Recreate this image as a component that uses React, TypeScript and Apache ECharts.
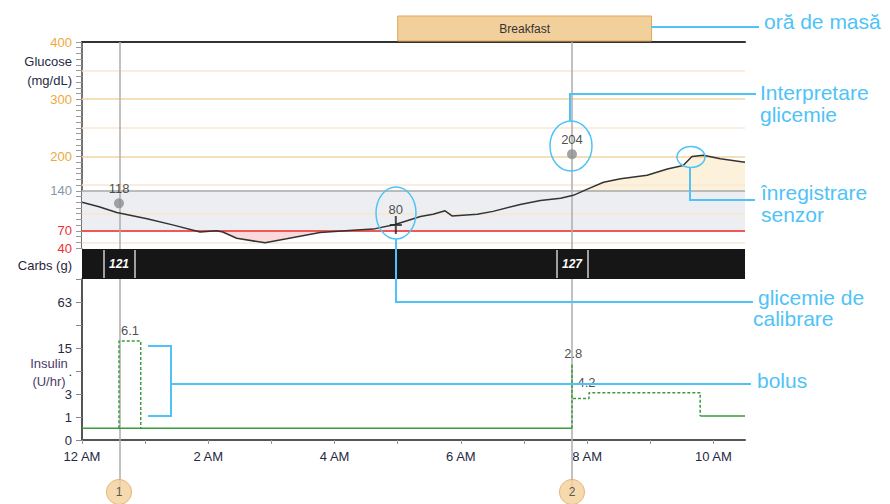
import React, { useEffect, useRef } from "react";
import * as echarts from "echarts";

// ---------- data ----------
const xTickLabels = ["12 AM", "", "2 AM", "", "4 AM", "", "6 AM", "", "8 AM", "", "10 AM"];

const glucoseTimes = [0, 0.27, 0.55, 1.03, 1.45, 1.87, 2.13, 2.23, 2.45, 2.9, 3.24, 3.77, 4.29, 4.61, 4.96, 5.36, 5.56, 5.75, 5.86, 6.26, 6.51, 6.94, 7.26, 7.58, 7.78, 8.05, 8.26, 8.53, 8.95, 9.27, 9.52, 9.66, 9.84, 10.11, 10.5];
const glucoseValues = [120, 112, 102, 91, 80, 68, 70, 68, 57, 49, 56, 67, 71, 73, 81, 95, 99, 105, 96, 99, 104, 116, 123, 127, 132, 145, 155, 161, 167, 178, 184, 200, 202, 196, 190];
const glucoseTickLabels = [40, 70, 140, 200, 300, 400];
const targetLow = 70;
const targetHigh = 140;
const majorGlucoseLines = [200, 300];
const minorGlucoseLines = [50, 100, 150, 250, 350];

const fingerstickTimes = [0.586, 7.76];
const fingerstickValues = [118, 204];
const calibrationTimes = [4.97];
const calibrationValues = [80];

const carbTimes = [0.586, 7.76];
const carbValues = [121, 127];

const mealNames = ["Breakfast"];
const mealStarts = [5.0];
const mealEnds = [9.02];

const eventTimes = [0.586, 7.76];
const eventLabels = ["1", "2"];

const basalTimes = [0, 7.76, 7.76, 9.79, 10.5];
const basalRates: (number | null)[] = [0.42, 0.42, null, 1.06, 1.06];
const bolusTimes = [0.586, 0.586, 0.93, 0.93, 0.93, 7.76, 7.76, 7.76, 8.03, 8.03, 9.79, 9.79];
const bolusRates: (number | null)[] = [0.42, 18.7, 18.7, 0.42, null, 0.42, 8.9, 2.5, 2.5, 3.16, 3.16, 1.06];
const bolusLabelTimes = [0.76, 7.78, 7.99];
const bolusLabelRates = [18.7, 8.9, 3.16];
const bolusAmounts = ["6.1", "2.8", "4.2"];
const insulinTickLabels = ["0", "1", "3", ".", "15", "", "63", ""];

// ---------- helpers ----------
const FONT = "Liberation Sans, Arial, sans-serif";
const BLUE = "#4fc3f7";
const toIns = (r: number) => Math.log2(r + 1);
const X_MAX = 10.5;
const LEFT = 82;
const WIDTH = 663;

export default function App() {
  const ref = useRef<HTMLDivElement>(null);

  useEffect(() => {
    if (!ref.current) return;
    const chart = echarts.init(ref.current, undefined, { renderer: "svg" });

    const gPts = glucoseTimes.map((t, i) => [t, glucoseValues[i]]);
    const highPts = glucoseTimes.map((t, i) => [t, Math.max(glucoseValues[i], targetHigh)]);
    const lowPts = glucoseTimes.map((t, i) => [t, Math.min(glucoseValues[i], targetLow)]);
    const lowLine = [[0, targetLow], [X_MAX, targetLow]];

    const basalData = basalTimes.map((t, i) => (basalRates[i] === null ? [t, "-"] : [t, toIns(basalRates[i] as number)]));
    const bolusData = bolusTimes.map((t, i) => (bolusRates[i] === null ? [t, "-"] : [t, toIns(bolusRates[i] as number)]));

    const hiddenX = (gridIndex: number) => ({
      type: "value", gridIndex, min: 0, max: X_MAX, show: false,
    });

    const noLine = { opacity: 0, width: 0 };

    const txt = (text: string, x: number, y: number, opts: any = {}) => ({
      type: "text", x, y, silent: true, z: 100,
      style: {
        text, fill: opts.fill || BLUE, font: `${opts.size || 21}px ${FONT}`,
        align: opts.align || "left", verticalAlign: "middle",
      },
    });
    const bl = { stroke: BLUE, lineWidth: 2, fill: null };

    const option: any = {
      animation: false,
      backgroundColor: "#ffffff",
      textStyle: { fontFamily: FONT },
      grid: [
        { left: LEFT, top: 42, width: WIDTH, height: 206, show: false },
        { left: LEFT, top: 249, width: WIDTH, height: 30, show: false },
        { left: LEFT, top: 279, width: WIDTH, height: 161, show: false },
        { left: LEFT, top: 16, width: WIDTH, height: 25, show: false },
        { left: LEFT, top: 42, width: WIDTH, height: 450, show: false },
      ],
      xAxis: [
        {
          type: "value", gridIndex: 0, min: 0, max: X_MAX, position: "top",
          axisLine: { show: true, lineStyle: { color: "#333", width: 2 } },
          axisTick: { show: false }, axisLabel: { show: false }, splitLine: { show: false },
        },
        hiddenX(1),
        {
          type: "value", gridIndex: 2, min: 0, max: X_MAX, interval: 1, position: "bottom",
          axisLine: { show: true, onZero: false, lineStyle: { color: "#555", width: 2 } },
          axisTick: { show: true, length: 4, lineStyle: { color: "#999" } },
          axisLabel: {
            margin: 10, fontSize: 13, color: "#1f2a44", showMaxLabel: false,
            formatter: (v: number) => (Number.isInteger(v) ? xTickLabels[v] ?? "" : ""),
          },
          splitLine: { show: false },
        },
        hiddenX(3),
        hiddenX(4),
      ],
      yAxis: [
        {
          type: "value", gridIndex: 0, min: 40, max: 400, interval: 10,
          axisLine: { show: true, lineStyle: { color: "#444", width: 1.5 } },
          axisTick: { show: true, length: 6, lineStyle: { color: "#999" } },
          axisLabel: {
            margin: 10, fontSize: 13,
            formatter: (v: number) => (glucoseTickLabels.includes(Number(v)) ? String(v) : ""),
            color: (v: any) => {
              const n = Number(v);
              if (n >= 200) return "#f0a83a";
              if (n === targetHigh) return "#8796ad";
              return "#ee3030";
            },
          },
          splitLine: { show: false },
        },
        { type: "value", gridIndex: 1, min: 0, max: 1, show: false },
        {
          type: "value", gridIndex: 2, min: 0, max: 7, interval: 1,
          axisLine: { show: true, lineStyle: { color: "#555", width: 2 } },
          axisTick: { show: true, length: 6, lineStyle: { color: "#888" } },
          axisLabel: {
            margin: 10, fontSize: 13, color: "#1f2a44",
            formatter: (v: number) => insulinTickLabels[Math.round(v)] ?? "",
          },
          splitLine: { show: false },
        },
        { type: "value", gridIndex: 3, min: 0, max: 1, show: false },
        { type: "value", gridIndex: 4, min: 0, max: 1, show: false },
      ],
      series: [
        // high fill: glucose above target down to axis bottom
        {
          type: "line", xAxisIndex: 0, yAxisIndex: 0, data: highPts, symbol: "none",
          lineStyle: noLine, areaStyle: { color: "#fcf1da", opacity: 1, origin: "start" }, silent: true, z: 1,
        },
        // low zone fill (pink below 70)
        {
          type: "line", xAxisIndex: 0, yAxisIndex: 0, data: lowLine, symbol: "none",
          lineStyle: noLine, areaStyle: { color: "#f9d9d9", opacity: 1, origin: "start" }, silent: true, z: 2,
        },
        // white below curve where under 70
        {
          type: "line", xAxisIndex: 0, yAxisIndex: 0, data: lowPts, symbol: "none",
          lineStyle: noLine, areaStyle: { color: "#ffffff", opacity: 1, origin: "start" }, silent: true, z: 3,
        },
        // target band
        {
          type: "line", xAxisIndex: 0, yAxisIndex: 0, data: lowLine, symbol: "none",
          lineStyle: noLine, silent: true, z: 4,
          markArea: {
            silent: true, z: 4,
            itemStyle: { color: "#eceef1" },
            data: [[{ yAxis: targetLow }, { yAxis: targetHigh }]],
          },
        },
        // reference lines
        {
          type: "line", xAxisIndex: 0, yAxisIndex: 0, data: [], silent: true, z: 5,
          markLine: {
            silent: true, z: 5, symbol: ["none", "none"], label: { show: false },
            data: [
              ...minorGlucoseLines.map((v) => ({ yAxis: v, lineStyle: { color: "#f9e6d3", width: 1.5, type: "solid" } })),
              ...majorGlucoseLines.map((v) => ({ yAxis: v, lineStyle: { color: "#f5d2a0", width: 1.5, type: "solid" } })),
              { yAxis: targetHigh, lineStyle: { color: "#a8a8a8", width: 1.5, type: "solid" } },
              { yAxis: targetLow, lineStyle: { color: "#f05858", width: 2, type: "solid" } },
            ],
          },
        },
        // event vertical lines
        {
          type: "line", xAxisIndex: 4, yAxisIndex: 4, data: [], silent: true, z: 5,
          markLine: {
            silent: true, z: 5, symbol: ["none", "none"], label: { show: false },
            lineStyle: { color: "#acacac", width: 1.5, type: "solid" },
            data: eventTimes.map((t) => ({ xAxis: t })),
          },
        },
        // carbs band
        {
          type: "line", xAxisIndex: 1, yAxisIndex: 1, data: [[0, 0.5]], symbol: "none",
          lineStyle: noLine, silent: true, z: 8,
          markArea: {
            silent: true, z: 8,
            itemStyle: { color: "#161616" },
            data: [[{ xAxis: 0 }, { xAxis: X_MAX }]],
          },
        },
        // glucose curve
        {
          type: "line", xAxisIndex: 0, yAxisIndex: 0, data: gPts, symbol: "none",
          lineStyle: { color: "#333", width: 1.5 }, silent: true, z: 6,
        },
        // fingersticks
        {
          type: "scatter", xAxisIndex: 0, yAxisIndex: 0, z: 7, symbolSize: 10,
          itemStyle: { color: "#8c8c8c" },
          data: fingerstickTimes.map((t, i) => [t, fingerstickValues[i]]),
          label: { show: true, position: "top", distance: 3, color: "#222", fontSize: 13, formatter: (p: any) => String(p.value[1]) },
        },
        // calibration
        {
          type: "scatter", xAxisIndex: 0, yAxisIndex: 0, z: 7,
          symbol: "path://M5,0h2v18h-2zM0,8h12v2h-12z", symbolSize: [12, 18],
          itemStyle: { color: "#222" },
          data: calibrationTimes.map((t, i) => [t, calibrationValues[i]]),
          label: { show: true, position: "top", distance: 0, color: "#222", fontSize: 13, formatter: (p: any) => String(p.value[1]) },
        },
        // carbs
        {
          type: "custom", xAxisIndex: 1, yAxisIndex: 1, z: 9, silent: true,
          data: carbTimes.map((t, i) => [t, carbValues[i]]),
          renderItem: (_p: any, api: any) => {
            const c = api.coord([api.value(0), 0.5]);
            return {
              type: "group",
              children: [
                { type: "line", shape: { x1: c[0] - 15, y1: c[1] - 14, x2: c[0] - 15, y2: c[1] + 14 }, style: { stroke: "#a0a0a0", lineWidth: 2 } },
                { type: "line", shape: { x1: c[0] + 16, y1: c[1] - 14, x2: c[0] + 16, y2: c[1] + 14 }, style: { stroke: "#a0a0a0", lineWidth: 2 } },
                { type: "text", x: c[0], y: c[1], style: { text: String(api.value(1)), fill: "#ffffff", font: `italic bold 12px ${FONT}`, align: "center", verticalAlign: "middle" } },
              ],
            };
          },
        },
        // basal
        {
          type: "line", xAxisIndex: 2, yAxisIndex: 2, data: basalData, symbol: "none", connectNulls: false,
          lineStyle: { color: "#3c9a3c", width: 1.5 }, silent: true, z: 6,
        },
        // bolus
        {
          type: "line", xAxisIndex: 2, yAxisIndex: 2, data: bolusData, symbol: "none", connectNulls: false,
          lineStyle: { color: "#3c9a3c", width: 1.5, type: [3, 2] }, silent: true, z: 6,
        },
        {
          type: "scatter", xAxisIndex: 2, yAxisIndex: 2, symbolSize: 0, z: 7, silent: true,
          data: bolusLabelTimes.map((t, i) => ({ value: [t, toIns(bolusLabelRates[i])], name: bolusAmounts[i] })),
          label: { show: true, position: "top", distance: 4, color: "#222", fontSize: 13, formatter: (p: any) => p.name },
        },
        // meal
        {
          type: "line", xAxisIndex: 3, yAxisIndex: 3, data: [[mealStarts[0], 0.5]], symbol: "none",
          lineStyle: noLine, silent: true, z: 3,
          markArea: {
            silent: true,
            itemStyle: { color: "#f1d09c", borderColor: "#e2a75a", borderWidth: 1 },
            label: { show: true, position: "inside", color: "#333", fontSize: 12 },
            data: mealNames.map((n, i) => [{ name: n, xAxis: mealStarts[i] }, { xAxis: mealEnds[i] }]),
          },
        },
        // event circles
        {
          type: "scatter", xAxisIndex: 4, yAxisIndex: 4, z: 10, clip: false, silent: true,
          symbolSize: 25,
          itemStyle: { color: "#f2cf9b", borderColor: "#e3a85c", borderWidth: 1 },
          data: eventTimes.map((t, i) => ({ value: [t, 0], name: eventLabels[i] })),
          label: { show: true, position: "inside", color: "#333", fontSize: 12, formatter: (p: any) => p.name },
        },
      ],
      graphic: {
        elements: [
          txt("Glucose", 72, 61, { fill: "#1e2a44", size: 13, align: "right" }),
          txt("(mg/dL)", 72, 80, { fill: "#1e2a44", size: 13, align: "right" }),
          txt("Carbs (g)", 72, 265, { fill: "#2a2438", size: 13, align: "right" }),
          txt("Insulin", 49, 363, { fill: "#4b3a6b", size: 13, align: "center" }),
          txt("(U/hr)", 49, 381, { fill: "#4b3a6b", size: 13, align: "center" }),
          // annotations
          { type: "line", silent: true, z: 100, shape: { x1: 651, y1: 27, x2: 759, y2: 27 }, style: bl },
          txt("oră de masă", 764, 21),
          { type: "polyline", silent: true, z: 100, shape: { points: [[570, 121], [570, 94], [756, 94]] }, style: bl },
          txt("Interpretare", 760, 92),
          txt("glicemie", 760, 114),
          { type: "ellipse", silent: true, z: 100, shape: { cx: 571, cy: 146, rx: 21, ry: 25 }, style: { ...bl, lineWidth: 1.5 } },
          { type: "ellipse", silent: true, z: 100, shape: { cx: 691, cy: 157, rx: 14, ry: 10.5 }, style: { ...bl, lineWidth: 1.5 } },
          { type: "polyline", silent: true, z: 100, shape: { points: [[690, 167.5], [690, 200], [755, 200]] }, style: bl },
          txt("înregistrare", 761, 192),
          txt("senzor", 761, 214),
          { type: "ellipse", silent: true, z: 100, shape: { cx: 396, cy: 213, rx: 20, ry: 26 }, style: { ...bl, lineWidth: 1.5 } },
          { type: "polyline", silent: true, z: 100, shape: { points: [[396, 239], [396, 302], [753, 302]] }, style: bl },
          txt("glicemie de", 758, 297),
          txt("calibrare", 753, 318),
          { type: "polyline", silent: true, z: 100, shape: { points: [[148, 346], [171, 346], [171, 416], [148, 416]] }, style: bl },
          { type: "line", silent: true, z: 100, shape: { x1: 171, y1: 384, x2: 751, y2: 384 }, style: bl },
          txt("bolus", 757, 380),
        ],
      },
    };

    chart.setOption(option);
    return () => chart.dispose();
  }, []);

  return <div ref={ref} style={{ position: "fixed", left: 0, top: 0, width: 890, height: 504 }} />;
}
